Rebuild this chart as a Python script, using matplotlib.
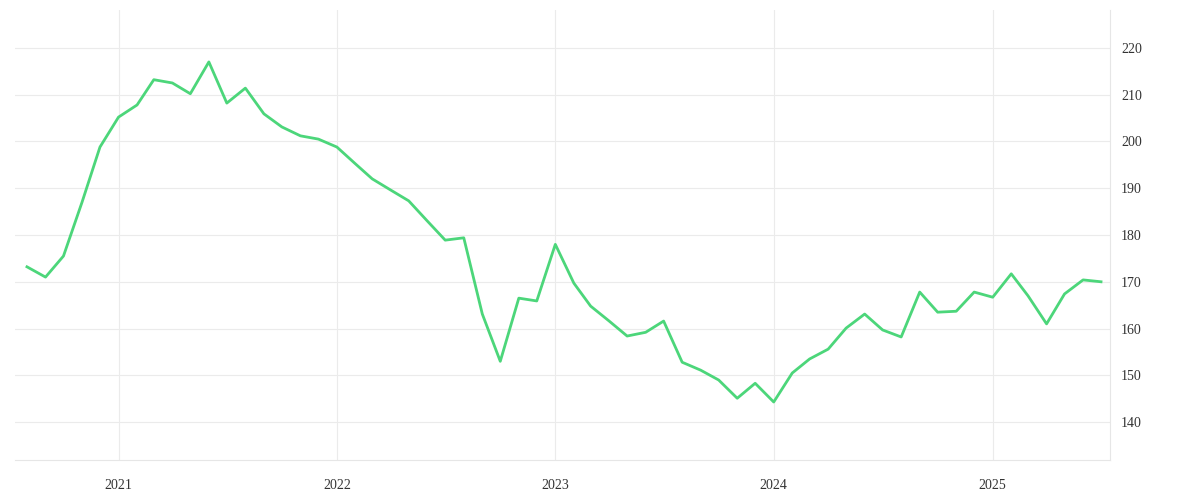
import matplotlib
matplotlib.use("Agg")
import matplotlib.pyplot as plt
import matplotlib.dates as mdates
import pandas as pd

dates = pd.date_range("2020-08-01", periods=60, freq="MS")
values = [173.2, 171.0, 175.5, 187.0, 198.8, 205.2, 207.8, 213.2, 212.5, 210.2,
          217.0, 208.2, 211.4, 205.9, 203.1, 201.2, 200.5, 198.8, 195.2, 192.0,
          189.6, 187.3, 183.0, 178.9, 179.4, 163.1, 153.0, 166.5, 165.9, 178.0,
          169.7, 164.8, 161.6, 158.4, 159.2, 161.6, 152.8, 151.1, 149.0, 145.1,
          148.3, 144.3, 150.5, 153.5, 155.6, 160.1, 163.1, 159.7, 158.2, 167.8,
          163.5, 163.7, 167.8, 166.7, 171.7, 167.0, 161.0, 167.4, 170.4, 170.0]
yticks = [140, 150, 160, 170, 180, 190, 200, 210, 220]

fig = plt.figure(figsize=(12, 5), dpi=100)
ax = fig.add_axes([0.0125, 0.08, 0.9125, 0.9])
ax.plot(dates, values, color="#4cd67a", lw=2.0)
ax.set_xlim(pd.Timestamp("2020-07-12"), pd.Timestamp("2025-07-16"))
ax.set_ylim(131.9, 228.1)
ax.yaxis.tick_right()
ax.set_yticks(yticks)
ax.xaxis.set_major_locator(mdates.YearLocator())
ax.xaxis.set_major_formatter(mdates.DateFormatter("%Y"))
ax.grid(True, color="#ebebeb", lw=0.8)
for s in ["top", "left"]:
    ax.spines[s].set_visible(False)
for s in ["right", "bottom"]:
    ax.spines[s].set_color("#e6e6e6")
ax.tick_params(length=0, labelsize=10, labelcolor="#333333", pad=8)
ax.tick_params(axis="x", pad=14)
for lab in ax.get_xticklabels() + ax.get_yticklabels():
    lab.set_family("Liberation Serif")
fig.savefig("out.png")
